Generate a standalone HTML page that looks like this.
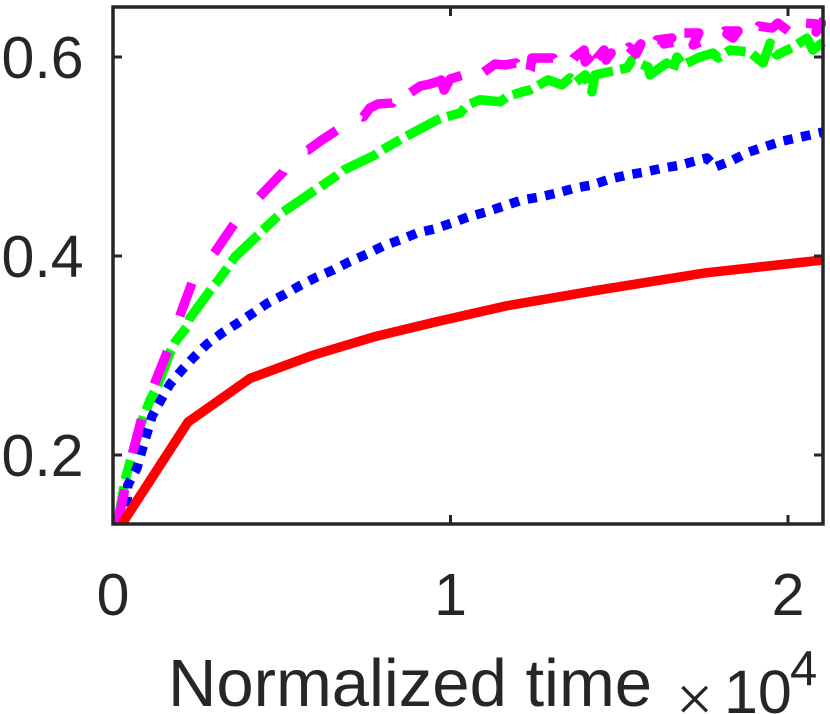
<!DOCTYPE html>
<html>
<head>
<meta charset="utf-8">
<title>Normalized time chart</title>
<style>
html,body{margin:0;padding:0;background:#fff;width:830px;height:714px;overflow:hidden}
svg{display:block}
text{font-family:"Liberation Sans",sans-serif;fill:#262626}
</style>
</head>
<body>
<svg id="chart" width="830" height="714" viewBox="0 0 830 714" xmlns="http://www.w3.org/2000/svg">
<defs><clipPath id="plot-clip"><rect x="113" y="7" width="713" height="517"/></clipPath></defs>
<g id="series" clip-path="url(#plot-clip)"></g>
<g id="axes"></g>
<text x="168" y="706" font-size="67">Normalized time</text>
<text x="676" y="721" font-size="66" style="font-family:'Liberation Serif',serif">×</text>
<text x="724" y="713" font-size="61">10</text>
<text x="790" y="685" font-size="49">4</text>
</svg>
<script>
const xTicks = [0, 1, 2];
const xTickLabels = ['0', '1', '2'];
const yTicks = [0.2, 0.4, 0.6];
const yTickLabels = ['0.2', '0.4', '0.6'];

const redX = [0.027,0.222,0.406,0.590,0.776,0.960,1.167,1.443,1.754,2.104];
const redY = [0.131,0.233,0.277,0.300,0.319,0.334,0.350,0.366,0.383,0.396];

const blueX = [0.027,0.041,0.044,0.071,0.086,0.101,0.116,0.142,0.169,0.204,0.240,0.279,0.323,0.370,0.415,0.459,0.510,0.557,0.604,0.652,0.699,0.753,0.800,0.850,0.901,0.951,1.004,1.052,1.105,1.159,1.212,1.265,1.316,1.369,1.419,1.473,1.523,1.576,1.630,1.683,1.736,1.760,1.784,1.837,1.884,1.938,1.985,2.038,2.092,2.104];
const blueY = [0.131,0.1477,0.1698,0.1869,0.2050,0.2221,0.2392,0.2553,0.2714,0.2854,0.2985,0.3116,0.3226,0.3327,0.3427,0.3528,0.3618,0.3709,0.3789,0.3859,0.3940,0.4020,0.4100,0.4161,0.4231,0.4271,0.4332,0.4392,0.4442,0.4503,0.4563,0.4593,0.4633,0.4683,0.4714,0.4774,0.4814,0.4844,0.4884,0.4915,0.4965,0.4985,0.4894,0.4965,0.5045,0.5106,0.5156,0.5196,0.5236,0.5246];

const greenX = [0.013,0.036,0.056,0.089,0.110,0.133,0.172,0.184,0.219,0.228,0.293,0.308,0.341,0.361,0.430,0.444,0.489,0.504,0.599,0.613,0.661,0.684,0.776,0.797,0.844,0.865,0.960,0.975,1.028,1.052,1.087,1.147,1.167,1.212,1.236,1.289,1.330,1.354,1.369,1.399,1.419,1.428,1.523,1.538,1.585,1.591,1.641,1.659,1.671,1.689,1.739,1.778,1.793,1.828,1.887,1.926,1.947,1.967,2.015,2.056,2.074,2.104];
const greenY = [0.1307,0.1749,0.2000,0.2372,0.2553,0.2704,0.3055,0.3136,0.3286,0.3377,0.3678,0.3739,0.3889,0.3990,0.4211,0.4261,0.4402,0.4442,0.4663,0.4693,0.4804,0.4864,0.5015,0.5065,0.5156,0.5196,0.5367,0.5387,0.5437,0.552,0.557,0.555,0.560,0.565,0.567,0.577,0.572,0.579,0.574,0.582,0.565,0.582,0.589,0.597,0.590,0.582,0.594,0.587,0.600,0.592,0.600,0.604,0.599,0.607,0.605,0.594,0.614,0.602,0.610,0.619,0.607,0.615];

const magentaX = [0.013,0.036,0.059,0.086,0.124,0.163,0.199,0.234,0.302,0.361,0.436,0.504,0.536,0.578,0.619,0.664,0.705,0.741,0.761,0.785,0.827,0.856,0.880,0.910,0.939,0.978,0.990,0.972,0.981,0.999,1.037,1.067,1.099,1.132,1.161,1.194,1.215,1.236,1.241,1.304,1.333,1.366,1.396,1.399,1.419,1.425,1.434,1.455,1.461,1.476,1.458,1.490,1.529,1.550,1.564,1.538,1.582,1.612,1.656,1.633,1.662,1.674,1.692,1.736,1.719,1.739,1.775,1.813,1.852,1.837,1.819,1.846,1.876,1.914,1.953,1.970,2.009,2.021,2.050,2.089,2.083,2.110];
const magentaY = [0.1307,0.1668,0.2030,0.2382,0.2724,0.3055,0.3407,0.3729,0.4040,0.4332,0.4603,0.4844,0.5065,0.5065,0.5166,0.5266,0.5457,0.5397,0.5487,0.5528,0.5538,0.5749,0.5638,0.5708,0.5729,0.5769,0.5588,0.5769,0.5668,0.5779,0.5819,0.5688,0.5849,0.5930,0.5920,0.5940,0.5729,0.5869,0.5990,0.5990,0.5819,0.5990,0.6070,0.5950,0.6020,0.5819,0.5990,0.6070,0.5970,0.6040,0.6020,0.5920,0.6100,0.6030,0.6131,0.6030,0.5970,0.6171,0.6191,0.6131,0.6151,0.6020,0.6241,0.6241,0.6121,0.6151,0.6070,0.6261,0.6261,0.6191,0.6231,0.6211,0.6131,0.6311,0.6291,0.6341,0.6241,0.6141,0.6341,0.6331,0.6251,0.6392];

const NS = 'http://www.w3.org/2000/svg';
const plotLeft = 113, plotRight = 823, plotTop = 7, plotBottom = 524;
function xScale(v) { return 113 + v * 337.5; }
function yScale(v) { return 455 - (v - 0.2) * 995; }

function buildPath(xs, ys) {
  return xs.map(function (x, i) {
    return (i ? 'L' : 'M') + xScale(x).toFixed(2) + ' ' + yScale(ys[i]).toFixed(2);
  }).join(' ');
}

function drawLine(name, xs, ys, color, dash) {
  const p = document.createElementNS(NS, 'path');
  
  
  p.setAttribute('d', buildPath(xs, ys));
  p.setAttribute('fill', 'none');
  p.setAttribute('stroke', color);
  p.setAttribute('stroke-width', '9.5');
  p.setAttribute('stroke-linejoin', 'round');
  if (dash) p.setAttribute('stroke-dasharray', dash);
  document.getElementById('series').appendChild(p);
}

drawLine('series-green-line', greenX, greenY, '#00ff00', '38 7.25 20 7.25');
drawLine('series-blue-line', blueX, blueY, '#0000ff', '9.5 8.5');
drawLine('series-magenta-line', magentaX, magentaY, '#ff00ff', '35 37.5');
drawLine('series-red-line', redX, redY, '#ff0000', '');

const axes = document.getElementById('axes');

function addTick(name, x1, y1, x2, y2) {
  const l = document.createElementNS(NS, 'line');
  
  
  l.setAttribute('x1', x1);
  l.setAttribute('y1', y1);
  l.setAttribute('x2', x2);
  l.setAttribute('y2', y2);
  l.setAttribute('stroke', '#262626');
  l.setAttribute('stroke-width', '3');
  axes.appendChild(l);
}

xTicks.forEach(function (t, i) {
  const x = xScale(t);
  addTick('x-tick-bottom', x, plotBottom, x, plotBottom - 9);
  addTick('x-tick-top', x, plotTop, x, plotTop + 9);
  const label = document.createElementNS(NS, 'text');
  
  
  label.setAttribute('x', x);
  label.setAttribute('y', 615);
  label.setAttribute('font-size', '59');
  label.setAttribute('text-anchor', 'middle');
  label.textContent = xTickLabels[i];
  axes.appendChild(label);
});

yTicks.forEach(function (t, i) {
  const y = yScale(t);
  addTick('y-tick-left', plotLeft, y, plotLeft + 9, y);
  addTick('y-tick-right', plotRight, y, plotRight - 9, y);
  const label = document.createElementNS(NS, 'text');
  
  
  label.setAttribute('x', 1.5);
  label.setAttribute('y', y + 21);
  label.setAttribute('font-size', '59');
  label.textContent = yTickLabels[i];
  axes.appendChild(label);
});

const frame = document.createElementNS(NS, 'rect');


frame.setAttribute('x', plotLeft);
frame.setAttribute('y', plotTop);
frame.setAttribute('width', plotRight - plotLeft);
frame.setAttribute('height', plotBottom - plotTop);
frame.setAttribute('fill', 'none');
frame.setAttribute('stroke', '#262626');
frame.setAttribute('stroke-width', '3.5');
axes.appendChild(frame);
</script>
</body>
</html>
